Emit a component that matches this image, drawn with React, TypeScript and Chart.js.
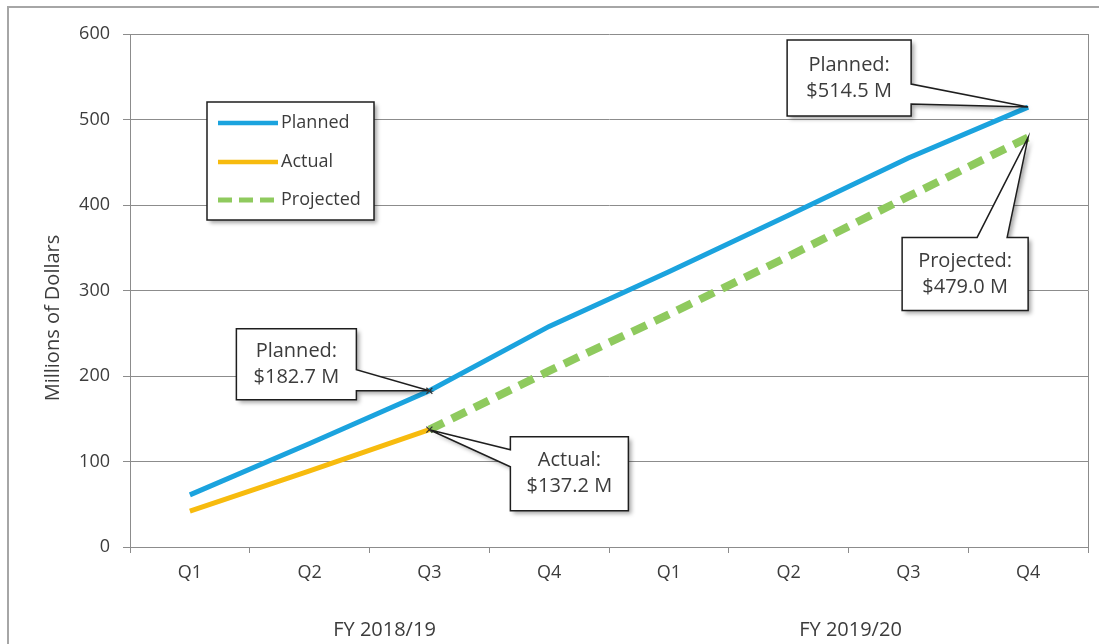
import React, { useEffect, useRef } from "react";
import { Chart, registerables } from "chart.js";

Chart.register(...registerables);

const quarters = ["Q1", "Q2", "Q3", "Q4", "Q1", "Q2", "Q3", "Q4"];
const fiscalYears = ["FY 2018/19", "FY 2019/20"];
const quartersPerYear = 4;
const planned = [61, 121, 182.7, 258, 322, 388, 455, 514.5];
const actual: (number | null)[] = [42, 89, 137.2, null, null, null, null, null];
const projected: (number | null)[] = [null, null, 137.2, 206, 272, 340, 410, 479.0];
const yTicks = [0, 100, 200, 300, 400, 500, 600];
const yTitle = "Millions of Dollars";

const FONT = "'Open Sans', 'DejaVu Sans', sans-serif";
const TEXT = "#3c3c3c";

type Callout = {
  ds: number;
  idx: number;
  name: string;
  box: [number, number, number, number]; // x0,y0,x1,y1 relative to tip
  side: "left" | "right" | "top";
  wedge: [number, number];
  marker: boolean;
};

const callouts: Callout[] = [
  { ds: 0, idx: 2, name: "Planned", box: [-193, -62, -73, 9], side: "right", wedge: [-21, 0], marker: true },
  { ds: 1, idx: 2, name: "Actual", box: [81, 7, 199, 81], side: "left", wedge: [20, 37], marker: true },
  { ds: 0, idx: 7, name: "Planned", box: [-241, -67, -117, 9], side: "right", wedge: [-23, -3], marker: false },
  { ds: 2, idx: 7, name: "Projected", box: [-126, 100, 0, 173], side: "top", wedge: [-51, -21], marker: false },
];

const decorPlugin = {
  id: "decor",
  beforeDraw(chart: any) {
    const ctx = chart.ctx;
    ctx.save();
    ctx.fillStyle = "#ffffff";
    ctx.fillRect(0, 0, chart.width, chart.height);
    ctx.strokeStyle = "#a6a6a6";
    ctx.lineWidth = 2;
    ctx.beginPath();
    ctx.moveTo(8, chart.height);
    ctx.lineTo(8, 7);
    ctx.lineTo(chart.width, 7);
    ctx.stroke();
    ctx.restore();
  },
  afterDatasetsDraw(chart: any) {
    const ctx = chart.ctx;
    const area = chart.chartArea;
    ctx.save();
    // plot area right border
    ctx.strokeStyle = "#8c8c8c";
    ctx.lineWidth = 1;
    ctx.beginPath();
    ctx.moveTo(area.right + 0.5, area.top);
    ctx.lineTo(area.right + 0.5, area.bottom);
    ctx.stroke();

    // y axis title
    ctx.save();
    ctx.translate(53, 318);
    ctx.rotate(-Math.PI / 2);
    ctx.fillStyle = TEXT;
    ctx.font = `20px ${FONT}`;
    ctx.textAlign = "center";
    ctx.textBaseline = "middle";
    ctx.fillText(yTitle, 0, 0);
    ctx.restore();

    // group labels
    const xs = chart.scales.x;
    ctx.fillStyle = TEXT;
    ctx.font = `20px ${FONT}`;
    ctx.textAlign = "center";
    ctx.textBaseline = "middle";
    const groupOffsets = [15, 2];
    fiscalYears.forEach((fy, g) => {
      const a = xs.getPixelForValue(g * quartersPerYear);
      const b = xs.getPixelForValue(g * quartersPerYear + quartersPerYear - 1);
      ctx.fillText(fy, (a + b) / 2 + groupOffsets[g], 630);
    });

    // callouts
    callouts.forEach((c) => {
      const meta = chart.getDatasetMeta(c.ds);
      const pt = meta.data[c.idx];
      const value = chart.data.datasets[c.ds].data[c.idx] as number;
      const tx = pt.x;
      const ty = pt.y;
      const x0 = tx + c.box[0];
      const y0 = ty + c.box[1];
      const x1 = tx + c.box[2];
      const y1 = ty + c.box[3];
      ctx.beginPath();
      ctx.moveTo(x0, y0);
      if (c.side === "top") {
        ctx.lineTo(tx + c.wedge[0], y0);
        ctx.lineTo(tx, ty);
        ctx.lineTo(tx + c.wedge[1], y0);
      }
      ctx.lineTo(x1, y0);
      if (c.side === "right") {
        ctx.lineTo(x1, ty + c.wedge[0]);
        ctx.lineTo(tx, ty);
        ctx.lineTo(x1, ty + c.wedge[1]);
      }
      ctx.lineTo(x1, y1);
      ctx.lineTo(x0, y1);
      if (c.side === "left") {
        ctx.lineTo(x0, ty + c.wedge[1]);
        ctx.lineTo(tx, ty);
        ctx.lineTo(x0, ty + c.wedge[0]);
      }
      ctx.closePath();
      ctx.save();
      ctx.shadowColor = "rgba(0,0,0,0.35)";
      ctx.shadowBlur = 4;
      ctx.shadowOffsetX = 3;
      ctx.shadowOffsetY = 3;
      ctx.fillStyle = "#ffffff";
      ctx.fill();
      ctx.restore();
      ctx.strokeStyle = "#1e1e1e";
      ctx.lineWidth = 1.5;
      ctx.lineJoin = "miter";
      ctx.stroke();
      if (c.marker) {
        ctx.save();
        ctx.strokeStyle = "#333333";
        ctx.lineWidth = 1.2;
        ctx.beginPath();
        ctx.moveTo(tx - 3, ty - 3);
        ctx.lineTo(tx + 3, ty + 3);
        ctx.moveTo(tx - 3, ty + 3);
        ctx.lineTo(tx + 3, ty - 3);
        ctx.stroke();
        ctx.restore();
      }
      ctx.fillStyle = TEXT;
      ctx.font = `20px ${FONT}`;
      ctx.textAlign = "center";
      ctx.textBaseline = "middle";
      const cx = (x0 + x1) / 2;
      const cy = (y0 + y1) / 2;
      ctx.fillText(`${c.name}:`, cx, cy - 13);
      ctx.fillText(`$${value.toFixed(1)} M`, cx, cy + 13);
    });

    // legend
    const lx0 = 207, ly0 = 102, lx1 = 374, ly1 = 220;
    ctx.save();
    ctx.shadowColor = "rgba(0,0,0,0.35)";
    ctx.shadowBlur = 4;
    ctx.shadowOffsetX = 3;
    ctx.shadowOffsetY = 3;
    ctx.fillStyle = "#ffffff";
    ctx.fillRect(lx0, ly0, lx1 - lx0, ly1 - ly0);
    ctx.restore();
    ctx.strokeStyle = "#1e1e1e";
    ctx.lineWidth = 1.5;
    ctx.strokeRect(lx0, ly0, lx1 - lx0, ly1 - ly0);
    const rows = [123, 162, 200];
    chart.data.datasets.forEach((ds: any, i: number) => {
      const y = rows[i];
      ctx.save();
      ctx.strokeStyle = ds.borderColor;
      ctx.lineWidth = i === 2 ? 5 : 4.5;
      ctx.setLineDash(ds.borderDash ? [14, 7] : []);
      ctx.lineCap = "butt";
      ctx.beginPath();
      ctx.moveTo(218, y);
      ctx.lineTo(278, y);
      ctx.stroke();
      ctx.restore();
      ctx.fillStyle = TEXT;
      ctx.font = `18px ${FONT}`;
      ctx.textAlign = "left";
      ctx.textBaseline = "middle";
      ctx.fillText(ds.label, 281, y);
    });
    ctx.restore();
  },
};

export default function App() {
  const canvasRef = useRef<HTMLCanvasElement | null>(null);

  useEffect(() => {
    if (!canvasRef.current) return;
    const chart = new Chart(canvasRef.current, {
      type: "line",
      data: {
        labels: quarters,
        datasets: [
          {
            label: "Planned",
            data: planned,
            borderColor: "#1ba3de",
            borderWidth: 5,
            pointRadius: 0,
            tension: 0,
          },
          {
            label: "Actual",
            data: actual,
            borderColor: "#f7bb0e",
            borderWidth: 5,
            pointRadius: 0,
            tension: 0,
          },
          {
            label: "Projected",
            data: projected,
            borderColor: "#8fca5e",
            borderWidth: 8,
            borderDash: [16, 9],
            pointRadius: 0,
            tension: 0,
          },
        ],
      },
      options: {
        animation: false,
        responsive: true,
        maintainAspectRatio: false,
        layout: { padding: { left: 0, top: 34, right: 11, bottom: 0 } },
        plugins: {
          legend: { display: false },
          tooltip: { enabled: false },
        },
        scales: {
          x: {
            type: "category",
            offset: true,
            grid: {
              offset: true,
              drawOnChartArea: false,
              drawTicks: true,
              tickLength: 6,
              color: "#8c8c8c",
            },
            border: { color: "#8c8c8c", width: 1 },
            ticks: {
              color: TEXT,
              font: { family: FONT, size: 18 },
              padding: 9,
              maxRotation: 0,
            },
            afterFit(scale: any) {
              scale.height = 97;
            },
          },
          y: {
            min: 0,
            max: 600,
            afterBuildTicks(scale: any) {
              scale.ticks = yTicks.map((v) => ({ value: v }));
            },
            grid: {
              color: "#8c8c8c",
              lineWidth: 1,
              drawTicks: true,
              tickLength: 7,
            },
            border: { color: "#8c8c8c", width: 1 },
            ticks: {
              color: TEXT,
              font: { family: FONT, size: 18 },
              padding: 13,
            },
            afterFit(scale: any) {
              scale.width = 130;
            },
          },
        },
      },
      plugins: [decorPlugin],
    });
    return () => chart.destroy();
  }, []);

  return (
    <div style={{ position: "fixed", left: 0, top: 0, width: 1099, height: 644 }}>
      <canvas ref={canvasRef} />
    </div>
  );
}
